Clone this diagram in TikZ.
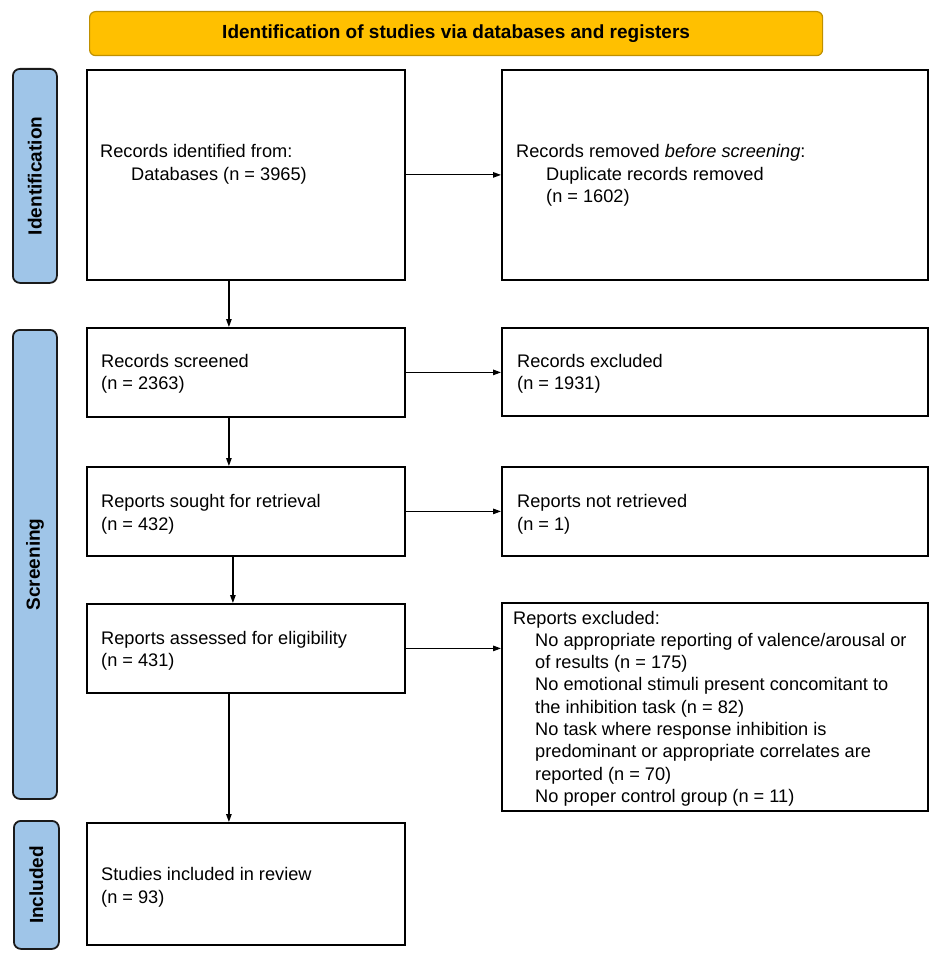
\documentclass[tikz,border=0pt]{standalone}
\usepackage{fontspec}
\setmainfont{Liberation Sans}
\usetikzlibrary{arrows.meta}
\definecolor{bannerfill}{HTML}{FFC000}
\definecolor{bannerdraw}{HTML}{BF9000}
\definecolor{sidefill}{HTML}{9FC5E8}
\definecolor{sidedraw}{HTML}{1A1A1A}
\begin{document}
\begin{tikzpicture}[x=1pt,y=-1pt,
  box/.style={draw=black, line width=1.8pt, inner sep=0pt, anchor=north west},
  side/.style={draw=sidedraw, fill=sidefill, line width=1.8pt, rounded corners=7pt, inner sep=0pt, anchor=north west, minimum width=44pt},
  banner/.style={draw=bannerdraw, fill=bannerfill, line width=1.2pt, rounded corners=6pt, inner sep=0pt, anchor=north west},
  txt/.style={anchor=base west, inner sep=0pt, font=\fontsize{18.2}{22}\selectfont},
  sidetxt/.style={rotate=90, inner sep=0pt, font=\fontsize{19}{22}\selectfont\bfseries},
  arr/.style={-{Triangle[length=8pt,width=5.5pt]}, line width=1.2pt}]
\useasboundingbox (0,0) rectangle (935,960);
% banner
\node[banner, minimum width=733pt, minimum height=44pt] (ban) at (89,11) {};
\node[inner sep=0pt, font=\fontsize{19}{22}\selectfont\bfseries] (bantxt) at (ban.center) {Identification of studies via databases and registers};
% side labels
\node[side, minimum height=214pt] (sid) at (12,68) {};
\node[sidetxt] (sidt) at (sid.center) {Identification};
\node[side, minimum height=469pt] (sscr) at (12,329) {};
\node[sidetxt] (sscrt) at (sscr.center) {Screening};
\node[side, minimum height=128pt, minimum width=45pt] (sinc) at (13,820) {};
\node[sidetxt] (sinct) at (sinc.center) {Included};
% boxes
\node[box, minimum width=318pt, minimum height=210pt] (b1) at (86,69) {};
\node[box, minimum width=426pt, minimum height=210pt] (rem) at (501,69) {};
\node[box, minimum width=318pt, minimum height=89pt] (scr) at (86,327) {};
\node[box, minimum width=426pt, minimum height=88pt] (exc) at (501,327) {};
\node[box, minimum width=318pt, minimum height=89pt] (sou) at (86,466) {};
\node[box, minimum width=426pt, minimum height=89pt] (nr) at (501,466) {};
\node[box, minimum width=318pt, minimum height=89pt] (ass) at (86,603) {};
\node[box, minimum width=426pt, minimum height=208pt] (rex) at (501,602) {};
\node[box, minimum width=318pt, minimum height=122pt] (inc) at (86,822) {};
% texts
\node[txt] (t1a) at (100,158) {Records identified from:};
\node[txt] (t1b) at (131,180) {Databases (n = 3965)};
\node[txt] (t2a) at (516,158) {Records removed \textit{before screening}:};
\node[txt] (t2b) at (546,180) {Duplicate records removed};
\node[txt] (t2c) at (546,202) {(n = 1602)};
\node[txt] (t3a) at (101,367) {Records screened};
\node[txt] (t3b) at (101,389) {(n = 2363)};
\node[txt] (t4a) at (517,367) {Records excluded};
\node[txt] (t4b) at (517,389) {(n = 1931)};
\node[txt] (t5a) at (101,507) {Reports sought for retrieval};
\node[txt] (t5b) at (101,530) {(n = 432)};
\node[txt] (t6a) at (517,507) {Reports not retrieved};
\node[txt] (t6b) at (517,530) {(n = 1)};
\node[txt] (t7a) at (101,644) {Reports assessed for eligibility};
\node[txt] (t7b) at (101,666) {(n = 431)};
\node[txt] (t8a) at (513,624) {Reports excluded:};
\node[txt] (t8b) at (535,646.3) {No appropriate reporting of valence/arousal or};
\node[txt] (t8c) at (535,668.6) {of results (n = 175)};
\node[txt] (t8d) at (535,690.9) {No emotional stimuli present concomitant to};
\node[txt] (t8e) at (535,713.2) {the inhibition task (n = 82)};
\node[txt] (t8f) at (535,735.5) {No task where response inhibition is};
\node[txt] (t8g) at (535,757.8) {predominant or appropriate correlates are};
\node[txt] (t8h) at (535,780.1) {reported (n = 70)};
\node[txt] (t8i) at (535,802.4) {No proper control group (n = 11)};
\node[txt] (t9a) at (101,880) {Studies included in review};
\node[txt] (t9b) at (101,903) {(n = 93)};
% arrows
\draw[arr] ([xshift=-17pt]b1.south) -- ([xshift=-17pt]scr.north);
\draw[arr] ([xshift=-17pt]scr.south) -- ([xshift=-17pt]sou.north);
\draw[arr] ([xshift=-13pt]sou.south) -- ([xshift=-13pt]ass.north);
\draw[arr] ([xshift=-17pt]ass.south) -- ([xshift=-17pt]inc.north);
\draw[arr] (b1.east) -- (b1.east -| rem.west);
\draw[arr] (scr.east) -- (scr.east -| exc.west);
\draw[arr] (sou.east) -- (sou.east -| nr.west);
\draw[arr] (ass.east) -- (ass.east -| rex.west);
\end{tikzpicture}
\end{document}
